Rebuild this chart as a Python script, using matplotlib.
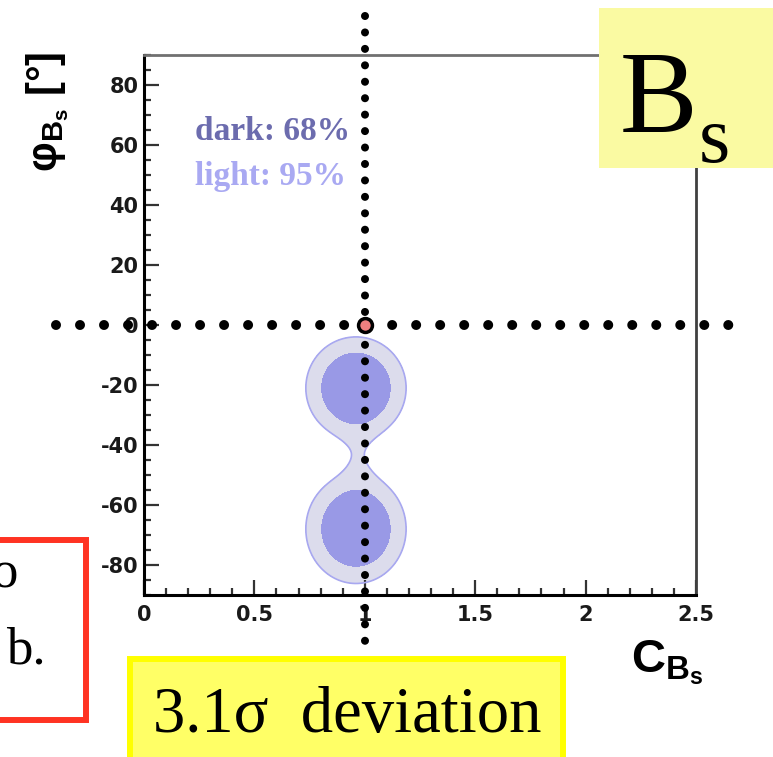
import numpy as np
import matplotlib
matplotlib.use("Agg")
import matplotlib.pyplot as plt
from matplotlib.patches import Rectangle
from matplotlib.ticker import MultipleLocator, FixedLocator, FixedFormatter

plt.rcParams["axes.unicode_minus"] = False
plt.rcParams["mathtext.fontset"] = "custom"
plt.rcParams["mathtext.rm"] = "Liberation Sans"
plt.rcParams["mathtext.bf"] = "Liberation Sans:bold"
plt.rcParams["mathtext.it"] = "Liberation Sans:italic"

# likelihood peaks in the (C_Bs, phi_Bs) plane
peak_c = [0.96, 0.96, 0.97]
peak_phi = [-21.0, -68.0, -45.0]
width_c = [0.10, 0.10, 0.06]
width_phi = [7.5, 8.0, 8.0]
peak_weight = [1.0, 1.0, 0.065]

# relative likelihood levels: 95% (light) and 68% (dark)
levels = [0.076, 0.30]

sm_point = (1.0, 0.0)

x_ticks = [0, 0.5, 1, 1.5, 2, 2.5]
x_ticklabels = ["0", "0.5", "1", "1.5", "2", "2.5"]
y_ticks = [-80, -60, -40, -20, 0, 20, 40, 60, 80]

W, H = 773, 757


def fx(px):
    return px / W


def fy(py):
    return 1 - py / H


fig = plt.figure(figsize=(W / 100, H / 100), dpi=100)
ax = fig.add_axes([fx(144), fy(595), fx(696) - fx(144), fy(55) - fy(595)])
ax.set_xlim(0, 2.5)
ax.set_ylim(-90, 90)

# ---- contours ----
cc, pp = np.meshgrid(np.linspace(0, 2.5, 600), np.linspace(-90, 90, 600))
lik = np.zeros_like(cc)
for c0, p0, sc, sp, w in zip(peak_c, peak_phi, width_c, width_phi, peak_weight):
    lik += w * np.exp(-0.5 * (((cc - c0) / sc) ** 2 + ((pp - p0) / sp) ** 2))
lik /= lik.max()

ax.contourf(cc, pp, lik, levels=[levels[0], levels[1]], colors=["#dcdcec"], zorder=1)
ax.contourf(cc, pp, lik, levels=[levels[1], 2], colors=["#9999e6"], zorder=2)
ax.contour(cc, pp, lik, levels=[levels[0]], colors=["#a8a8f0"], linewidths=1.2, zorder=3)

ax.text(0.23, 61.5, "dark: 68%", family="Liberation Serif", fontweight="bold",
        fontsize=24, color="#6c6cae", va="baseline")
ax.text(0.23, 46.5, "light: 95%", family="Liberation Serif", fontweight="bold",
        fontsize=24, color="#a9a9f2", va="baseline")

# ---- axes styling ----
for side in ["left", "bottom"]:
    ax.spines[side].set_linewidth(2.2)
    ax.spines[side].set_color("black")
ax.spines["top"].set_linewidth(2.0)
ax.spines["top"].set_color("#707070")
ax.spines["right"].set_linewidth(2.0)
ax.spines["right"].set_color("#404040")

ax.xaxis.set_major_locator(FixedLocator(x_ticks))
ax.xaxis.set_major_formatter(FixedFormatter(x_ticklabels))
ax.xaxis.set_minor_locator(MultipleLocator(0.1))
ax.yaxis.set_major_locator(FixedLocator(y_ticks))
ax.yaxis.set_minor_locator(MultipleLocator(5))
ax.tick_params(which="both", direction="in", top=False, right=False,
               color="#333333", width=1.6)
ax.tick_params(which="major", length=10.5)
ax.tick_params(which="minor", length=5)
ax.tick_params(axis="y", which="major", pad=4)
ax.tick_params(axis="x", which="major", pad=7)
for lab in ax.get_xticklabels() + ax.get_yticklabels():
    lab.set_family("DejaVu Sans")
    lab.set_fontweight("bold")
    lab.set_fontsize(15)
    lab.set_color("#1a1a1a")

# ---- dotted reference lines through the SM point ----
ax.plot([-0.40, 2.72], [sm_point[1], sm_point[1]], color="black", lw=7.2,
        linestyle=(0, (0.001, 2.4)), dash_capstyle="round", clip_on=False, zorder=6)
ax.plot([sm_point[0], sm_point[0]], [103, -109], color="black", lw=5.8,
        linestyle=(0, (0.001, 2.04)), dash_capstyle="round", clip_on=False, zorder=6)
ax.plot(*sm_point, marker="o", ms=10, mfc="#f08080", mec="black", mew=2.5,
        clip_on=False, zorder=7)

# ---- axis titles ----
fig.text(fx(631), fy(672), r"$\mathbf{C_{B_s}}$", fontsize=34, va="baseline", ha="left")
fig.text(fx(24), fy(52), r"$\mathbf{φ_{B_s}}$ [°]", family="Liberation Sans",
         fontweight="bold", fontsize=30, rotation=90, ha="left", va="top")

# ---- B_s label box ----
fig.add_artist(Rectangle((fx(599), fy(168)), fx(773) - fx(599) + 0.01, fy(8) - fy(168),
                         transform=fig.transFigure, facecolor="#fafaa2", edgecolor="none",
                         zorder=10))
fig.text(fx(620), fy(132), "B", family="Liberation Serif", fontsize=84,
         va="baseline", ha="left", zorder=11)
fig.text(fx(699), fy(162), "s", family="Liberation Serif", fontsize=58,
         va="baseline", ha="left", zorder=11)

# ---- deviation box ----
fig.add_artist(Rectangle((fx(130), fy(770)), fx(563) - fx(130), fy(659) - fy(770),
                         transform=fig.transFigure, facecolor="#ffff66", edgecolor="#ffff00",
                         linewidth=4.3, zorder=10))
fig.text(fx(153), fy(732), "3.1σ  deviation", family="Liberation Serif", fontsize=46.5,
         va="baseline", ha="left", zorder=11)

# ---- partial red box at the left edge ----
fig.add_artist(Rectangle((fx(-20), fy(720)), fx(86) - fx(-20), fy(540) - fy(720),
                         transform=fig.transFigure, facecolor="white", edgecolor="#ff3322",
                         linewidth=4.3, zorder=10))
fig.text(fx(18), fy(587), "o", family="Liberation Serif", fontsize=38,
         va="baseline", ha="right", zorder=11)
fig.text(fx(46), fy(663), "b.", family="Liberation Serif", fontsize=38,
         va="baseline", ha="right", zorder=11)

fig.savefig("out.png", dpi=100)
